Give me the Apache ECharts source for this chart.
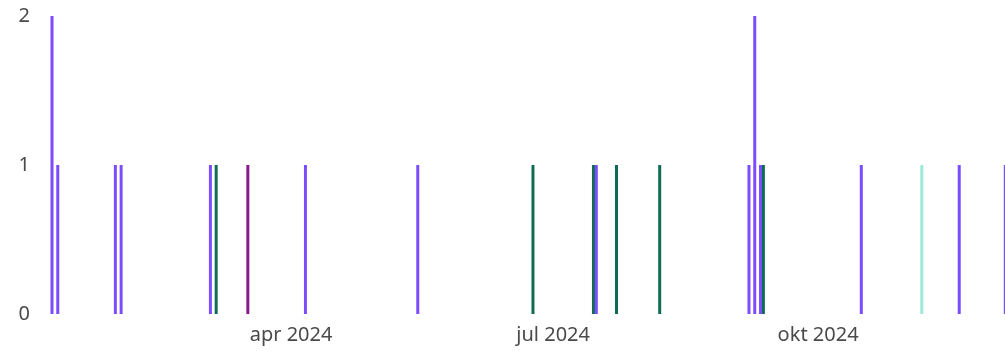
<!DOCTYPE html>
<html>
<head>
<meta charset="utf-8">
<script src="https://cdn.jsdelivr.net/npm/echarts@6/dist/echarts.min.js"></script>
<style>
html,body{margin:0;padding:0;background:#fff;}
#chart{width:1005px;height:351px;}
</style>
</head>
<body>
<div id="chart"></div>
<script>
// Data
const purpleDates = ['2024-01-09','2024-01-11','2024-01-31','2024-02-02','2024-03-04','2024-04-06','2024-05-15','2024-07-16','2024-09-07','2024-09-09','2024-09-11','2024-10-16','2024-11-19','2024-12-05'];
const purpleValues = [2,1,1,1,1,1,1,1,1,2,1,1,1,1];
const greenDates = ['2024-03-06','2024-06-24','2024-07-15','2024-07-23','2024-08-07','2024-09-12'];
const greenValues = [1,1,1,1,1,1];
const magentaDates = ['2024-03-17'];
const magentaValues = [1];
const tealDates = ['2024-11-06'];
const tealValues = [1];
const tickDates = ['2024-04-01','2024-07-01','2024-10-01'];
const tickLabels = ['apr 2024','jul 2024','okt 2024'];
const yTicks = [0,1,2];

const ts = s => { const p = s.split('-').map(Number); return Date.UTC(p[0], p[1]-1, p[2]); };
const pairs = (d, v) => d.map((x, i) => [ts(x), v[i]]);
const xMin = ts('2024-01-08') + 7.3 * 3600000;
const xMax = ts('2024-12-04') + 21.5 * 3600000;

const labelMap = {};
tickDates.forEach((d, i) => { labelMap[ts(d)] = tickLabels[i]; });

const chart = echarts.init(document.getElementById('chart'), null, {renderer: 'canvas'});
const font = 'Noto Sans';
const mk = (name, data, color) => ({
  name, type: 'bar', data, barWidth: 3, barGap: '-100%',
  itemStyle: {color}, animation: false
});
chart.setOption({
  animation: false,
  grid: {left: 50, right: 0, top: 16, bottom: 37, containLabel: false},
  xAxis: {
    type: 'value', min: xMin, max: xMax, scale: true,
    axisLine: {show: false}, axisTick: {show: false}, splitLine: {show: false},
    axisLabel: {
      customValues: tickDates.map(ts),
      formatter: v => labelMap[v] || '',
      color: '#4A4A4A', fontFamily: font, fontSize: 20, margin: 11
    }
  },
  yAxis: {
    type: 'value', min: 0, max: 2, interval: 1,
    axisLine: {show: false}, axisTick: {show: false}, splitLine: {show: false},
    axisLabel: {
      formatter: v => yTicks.includes(v) ? String(v) : '',
      color: '#4A4A4A', fontFamily: font, fontSize: 20, margin: 20
    }
  },
  series: [
    mk('a', pairs(greenDates, greenValues), '#0E6B55'),
    mk('b', pairs(purpleDates, purpleValues), '#7C4DFF'),
    mk('c', pairs(magentaDates, magentaValues), '#8A1A8C'),
    mk('d', pairs(tealDates, tealValues), '#9DEAD9')
  ]
});
</script>
</body>
</html>
